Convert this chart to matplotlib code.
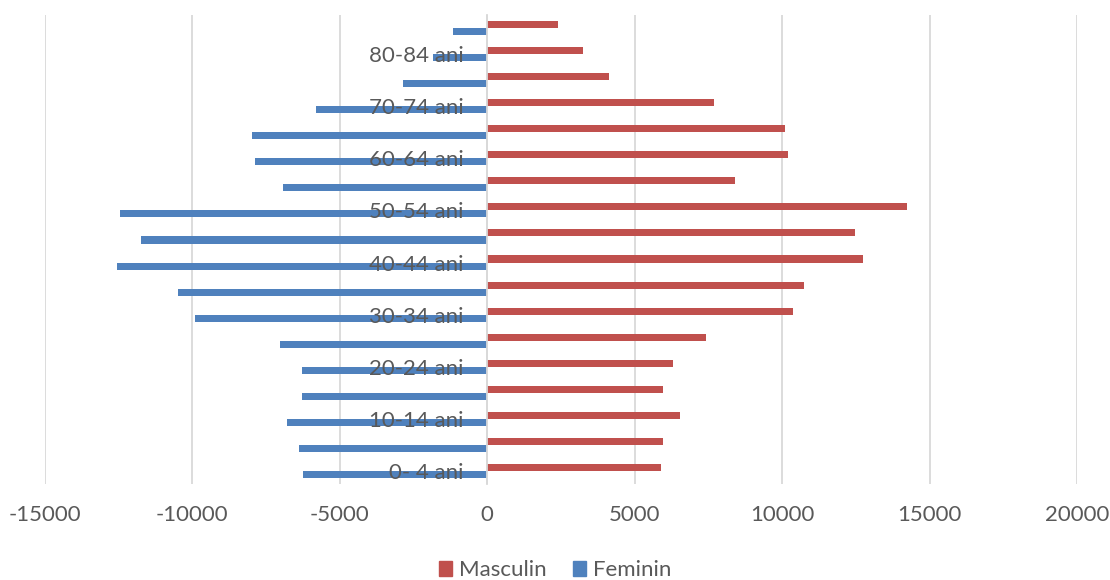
import matplotlib
matplotlib.use("Agg")
import matplotlib.pyplot as plt
import numpy as np
from matplotlib.patches import Patch

categories = ["0- 4 ani", "5-9 ani", "10-14 ani", "15-19 ani", "20-24 ani", "25-29 ani",
              "30-34 ani", "35-39 ani", "40-44 ani", "45-49 ani", "50-54 ani", "55-59 ani",
              "60-64 ani", "65-69 ani", "70-74 ani", "75-79 ani", "80-84 ani", "85+ ani"]
masculin = [5890, 5960, 6520, 5950, 6290, 7430, 10370, 10740, 12730, 12460,
            14240, 8400, 10200, 10110, 7690, 4120, 3260, 2400]
feminin = [-6240, -6400, -6800, -6290, -6300, -7020, -9910, -10500, -12570, -11740,
           -12460, -6920, -7870, -7970, -5820, -2850, -1850, -1150]
xticks = [-15000, -10000, -5000, 0, 5000, 10000, 15000, 20000]

plt.rcParams['font.family'] = ['Lato', 'DejaVu Sans']
text_color = '#595959'
red = '#C0504D'
blue = '#4F81BD'

fig = plt.figure(figsize=(11.1, 5.8), dpi=100)
ax = fig.add_axes([45/1110, 1-484/580, (1077-45)/1110, (484-15)/580])

y = np.arange(len(categories))
h = 0.27
ax.barh(y + 0.135, masculin, height=h, color=red, label='Masculin', zorder=3)
ax.barh(y - 0.135, feminin, height=h, color=blue, label='Feminin', zorder=3)

ax.set_xlim(-15000, 20000)
ax.set_ylim(-0.5, len(categories) - 0.5)
ax.set_xticks(xticks)
ax.set_xticklabels([str(v) for v in xticks])
ax.set_yticks(y[::2])
ax.set_yticklabels(categories[::2])

ax.grid(axis='x', color='#d9d9d9', linewidth=1.3, zorder=0)
ax.set_axisbelow(True)
ax.yaxis.set_zorder(5)
for s in ['top', 'right', 'bottom']:
    ax.spines[s].set_visible(False)
ax.spines['left'].set_position(('data', 0))
ax.spines['left'].set_color('#d9d9d9')
ax.spines['left'].set_linewidth(1.3)
ax.spines['left'].set_zorder(4)

ax.tick_params(axis='y', length=0, pad=17, labelsize=16, labelcolor=text_color)
ax.tick_params(axis='x', length=0, pad=15, labelsize=16, labelcolor=text_color)

handles = [Patch(color=red, label='Masculin'), Patch(color=blue, label='Feminin')]
fig.legend(handles=handles, loc='lower center', bbox_to_anchor=(0.5, -0.035), ncol=2,
           frameon=False, fontsize=16, labelcolor=text_color, handlelength=0.6,
           handleheight=0.6, handletextpad=0.3, columnspacing=1.2)

fig.savefig('out.png', dpi=100)
